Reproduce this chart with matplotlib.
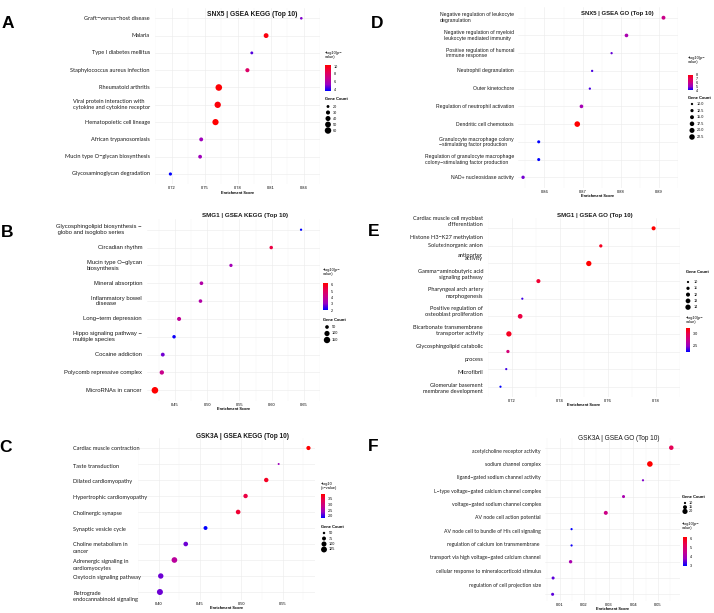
"""Six-panel GSEA dot plot figure (SNX5 / SMG1 / GSK3A, KEGG and GO top 10)."""

import matplotlib

matplotlib.use("Agg")

import matplotlib.pyplot as plt
import numpy as np
from matplotlib.cm import ScalarMappable
from matplotlib.colors import LinearSegmentedColormap, Normalize

W, H, DPI = 714, 613, 100
PX = 72.0 / DPI  # points per pixel

# ggplot-like blue -> red gradient (Lab interpolated stops)
CMAP = LinearSegmentedColormap.from_list(
    "blue_red", ["#0000FF", "#9A00C2", "#CA0089", "#E80050", "#FF0000"]
)
GRID = "#EBEBEB"
SANS = ["Liberation Sans", "DejaVu Sans"]
LATO = ["Lato", "DejaVu Sans"]

# ---------------- data ----------------
A_TERMS = [
    "Graft−versus−host disease",
    "Malaria",
    "Type I diabetes mellitus",
    "Staphylococcus aureus infection",
    "Rheumatoid arthritis",
    "Viral protein interaction with\ncytokine and cytokine receptor",
    "Hematopoietic cell lineage",
    "African trypanosomiasis",
    "Mucin type O−glycan biosynthesis",
    "Glycosaminoglycan degradation",
]
A_SCORE = [0.838, 0.806, 0.793, 0.789, 0.763, 0.762, 0.760, 0.747, 0.746, 0.719]
A_LOGP = [5.0, 10.0, 4.5, 8.0, 10.2, 10.1, 10.3, 5.5, 5.5, 3.6]
A_COUNT = [18, 38, 20, 30, 62, 58, 56, 28, 27, 22]
A_SIZE_BREAKS = [20, 30, 40, 50, 60]
A_COLOR_TICKS = [4, 6, 8, 10]
A_XTICKS = [0.72, 0.75, 0.78, 0.81, 0.84]

B_TERMS = [
    "Glycosphingolipid biosynthesis −\n globo and isoglobo series",
    "Circadian rhythm",
    "Mucin type O−glycan\nbiosynthesis",
    "Mineral absorption",
    "Inflammatory bowel\n   disease",
    "Long−term depression",
    "Hippo signaling pathway −\nmultiple species",
    "Cocaine addiction",
    "Polycomb repressive complex",
    "MicroRNAs in cancer",
]
B_SCORE = [0.6456, 0.5993, 0.5368, 0.491, 0.4895, 0.4563, 0.4485, 0.431, 0.4295, 0.4188]
B_LOGP = [2.0, 5.4, 3.3, 3.6, 3.6, 3.9, 2.1, 2.8, 4.1, 6.3]
B_COUNT = [20, 45, 40, 50, 48, 60, 45, 55, 70, 160]
B_SIZE_BREAKS = [50, 100, 150]
B_COLOR_TICKS = [2, 3, 4, 5, 6]
B_XTICKS = [0.45, 0.50, 0.55, 0.60, 0.65]

C_TERMS = [
    "Cardiac muscle contraction",
    "Taste transduction",
    "Dilated cardiomyopathy",
    "Hypertrophic cardiomyopathy",
    "Cholinergic synapse",
    "Synaptic vesicle cycle",
    "Choline metabolism in\ncancer",
    "Adrenergic signaling in\ncardiomyocytes",
    "Oxytocin signaling pathway",
    "Retrograde\nendocannabinoid signaling",
]
C_SCORE = [0.581, 0.545, 0.530, 0.505, 0.496, 0.4566, 0.4327, 0.419, 0.4025, 0.4015]
C_LOGP = [3.94, 2.4, 3.7, 3.5, 3.6, 1.82, 2.2, 2.7, 2.2, 2.2]
C_COUNT = [80, 45, 85, 85, 90, 75, 90, 118, 110, 128]
C_SIZE_BREAKS = [50, 75, 100, 125]
C_COLOR_TICKS = [2.0, 2.5, 3.0, 3.5]
C_XTICKS = [0.40, 0.45, 0.50, 0.55]

D_TERMS = [
    "Negative regulation of leukocyte\ndegranulation",
    "Negative regulation of myeloid\nleukocyte mediated immunity",
    "Positive regulation of humoral\nimmune response",
    "Neutrophil degranulation",
    "Outer kinetochore",
    "Regulation of neutrophil activation",
    "Dendritic cell chemotaxis",
    "Granulocyte macrophage colony\n−stimulating factor production",
    "Regulation of granulocyte macrophage\ncolony−stimulating factor production",
    "NAD+ nucleosidase activity",
]
D_SCORE = [0.8912, 0.8815, 0.8776, 0.8725, 0.8719, 0.8697, 0.8686, 0.8585, 0.8585, 0.8544]
D_LOGP = [6.0, 5.3, 4.6, 4.4, 4.4, 5.2, 8.1, 3.9, 3.9, 4.7]
D_COUNT = [15, 14, 10, 10, 10, 14, 23, 12, 12, 13]
D_SIZE_BREAKS = [10.0, 12.5, 15.0, 17.5, 20.0, 22.5]
D_COLOR_TICKS = [4, 5, 6, 7, 8]
D_XTICKS = [0.86, 0.87, 0.88, 0.89]

E_TERMS = [
    "Cardiac muscle cell myoblast\ndifferentiation",
    "Histone H3−K27 methylation",
    "Solute:inorganic anion\nantiporter\nactivity",
    "Gamma−aminobutyric acid\nsignaling pathway",
    "Pharyngeal arch artery\nmorphogenesis",
    "Positive regulation of\nosteoblast proliferation",
    "Bicarbonate transmembrane\ntransporter activity",
    "Glycosphingolipid catabolic\nprocess",
    "Microfibril",
    "Glomerular basement\nmembrane development",
]
E_SCORE = [0.779, 0.757, 0.752, 0.731, 0.7243, 0.7234, 0.7187, 0.7183, 0.7176, 0.7152]
E_LOGP = [3.2, 3.1, 3.2, 3.05, 2.35, 3.0, 3.1, 2.8, 2.35, 2.25]
E_COUNT = [12, 11, 14, 12, 10, 13, 14, 11, 10, 10]
E_SIZE_BREAKS = [10, 11, 12, 13, 14]
E_COLOR_TICKS = [2.5, 3.0]
E_XTICKS = [0.72, 0.74, 0.76, 0.78]

F_TERMS = [
    "acetylcholine receptor activity",
    "sodium channel complex",
    "ligand−gated sodium channel activity",
    "L−type voltage−gated calcium channel complex",
    "voltage−gated sodium channel complex",
    "AV node cell action potential",
    "AV node cell to bundle of His cell signaling",
    "regulation of calcium ion transmembrane \ntransport via high voltage−gated calcium channel",
    "cellular response to mineralocorticoid stimulus",
    "regulation of cell projection size",
]
F_SCORE = [0.0554, 0.0467, 0.0439, 0.036, 0.0288, 0.0149, 0.0149, 0.0145, 0.0074, 0.0072]
F_LOGP = [5.3, 6.2, 3.6, 4.0, 4.6, 2.9, 3.0, 4.0, 3.4, 3.4]
F_COUNT = [17, 22, 10, 12, 15, 10, 10, 13, 12, 12]
F_SIZE_BREAKS = [10, 15, 20]
F_COLOR_TICKS = [3, 4, 5, 6]
F_XTICKS = [0.01, 0.02, 0.03, 0.04, 0.05]

# ---------------- layout (pixel coordinates) ----------------
LAYOUT = {
    "A": dict(letter_xy=(7.5, 23), title="SNX5 | GSEA KEGG (Top 10)", title_xy=(252.5, 14),
              title_bold=True, title_size=4.8, box_x=(155, 320), rows=(18.3, 174), expand=0.6,
              xcal=(0.72, 162.3, 0.84, 314.3), font=LATO, label_size=4.1, label_x=150,
              label_ha="right", line_rows=None, dots=(2.6, 6.6),
              cbar_title="−log10(p−\nvalue)", cbar_title_xy=(325, 51), cbar_box=(325, 65, 331, 91),
              size_title_xy=(325, 99.5), size_dot_x=328, size_label_x=333, size_y0=106.5,
              size_step=6.0),
    "B": dict(letter_xy=(7, 232.5), title="SMG1 | GSEA KEGG (Top 10)", title_xy=(245.5, 215.5),
              title_bold=True, title_size=4.5, box_x=(147, 320), rows=(229.7, 390.3), expand=0.6,
              xcal=(0.45, 176.7, 0.65, 313.3), font=SANS, label_size=4.2, label_x=142,
              label_ha="right", line_rows=None, dots=(2.3, 6.6),
              cbar_title="−log10(p−\nvalue)", cbar_title_xy=(323, 268), cbar_box=(323, 283, 328, 310),
              size_title_xy=(323, 320), size_dot_x=327, size_label_x=332, size_y0=327,
              size_step=6.5),
    "C": dict(letter_xy=(6, 448), title="GSK3A | GSEA KEGG (Top 10)", title_xy=(242, 437),
              title_bold=True, title_size=4.7, box_x=(138, 315), rows=(448, 592), expand=0.5,
              xcal=(0.40, 141.7, 0.55, 279.3), font=LATO, label_size=4.1, label_x=73,
              label_ha="left",
              line_rows=[0, 1.125, 2.125, 3.1, 4.125, 5.125, 6.02, 6.44, 7.1, 7.52, 8.125, 9.08, 9.46],
              dots=(2.0, 6.0),
              cbar_title="−log10\n(p−value)", cbar_title_xy=(321, 482), cbar_box=(321, 494, 325, 518),
              size_title_xy=(321, 527), size_dot_x=324, size_label_x=329, size_y0=533,
              size_step=5.5),
    "D": dict(letter_xy=(377.5, 23), title="SNX5 | GSEA GO (Top 10)", title_xy=(617, 14),
              title_bold=True, title_size=4.3, box_x=(518, 678), rows=(17.7, 177.3), expand=0.6,
              xcal=(0.86, 546.7, 0.89, 671), font=SANS, label_size=3.7, label_x=514,
              label_ha="right", line_rows=None, dots=(2.3, 5.6),
              cbar_title="−log10(p−\nvalue)", cbar_title_xy=(688, 56), cbar_box=(688, 74.5, 693, 90.5),
              size_title_xy=(688, 98), size_dot_x=692, size_label_x=697, size_y0=104,
              size_step=6.6),
    "E": dict(letter_xy=(374, 232), title="SMG1 | GSEA GO (Top 10)", title_xy=(595, 215),
              title_bold=True, title_size=4.4, box_x=(488, 680), rows=(228.3, 386.7), expand=0.6,
              xcal=(0.72, 499, 0.78, 674.3), font=LATO, label_size=4.1, label_x=483,
              label_ha="right",
              line_rows=[-0.57, -0.23, 0.51, 1.0, 1.53, 1.74, 2.46, 2.8, 3.5, 3.86, 4.58, 4.92,
                         5.64, 6.0, 6.72, 7.46, 8.18, 8.94, 9.28],
              dots=(2.2, 5.3),
              cbar_title="−log10(p−\nvalue)", cbar_title_xy=(686, 316), cbar_box=(686, 328, 690, 352),
              size_title_xy=(686, 272), size_dot_x=688, size_label_x=694, size_y0=282,
              size_step=6.3),
    "F": dict(letter_xy=(373, 446.5), title="GSK3A | GSEA GO (Top 10)", title_xy=(618.5, 438),
              title_bold=False, title_size=4.7, box_x=(545, 680), rows=(447.7, 594.3), expand=0.4,
              xcal=(0.01, 559.5, 0.05, 658), font=LATO, label_size=3.7, label_x=541,
              label_ha="right",
              line_rows=[0.245, 1.06, 1.86, 2.68, 3.5, 4.31, 5.13, 5.95, 6.77, 7.59, 8.43],
              dots=(2.2, 5.6),
              cbar_title="−log10(p−\nvalue)", cbar_title_xy=(682, 522), cbar_box=(683, 537, 687, 566),
              size_title_xy=(682, 497), size_dot_x=685, size_label_x=689, size_y0=503,
              size_step=4.2),
}


def dot_area(count, cmin, cmax, dmin, dmax):
    t = (np.asarray(count, dtype=float) - cmin) / (cmax - cmin)
    d = np.sqrt(dmin ** 2 + t * (dmax ** 2 - dmin ** 2))
    return (d * PX) ** 2


def px_axes(fig, left, top, right, bottom):
    return fig.add_axes([left / W, 1 - bottom / H, (right - left) / W, (bottom - top) / H])


def draw_panel(fig, ov, key, terms, score, logp, count, size_breaks, color_ticks, xticks):
    lay = LAYOUT[key]
    py0, py9 = lay["rows"]
    step = (py9 - py0) / 9
    ex = lay["expand"]
    left, right = lay["box_x"]
    ax = px_axes(fig, left, py0 - 0.6 * step, right, py9 + ex * step)

    v1, p1, v2, p2 = lay["xcal"]
    k = (p2 - p1) / (v2 - v1)
    ax.set_xlim(v1 - (p1 - left) / k, v1 + (right - p1) / k)
    ax.set_ylim(9 + ex, -0.6)

    ax.set_xticks(xticks)
    ax.set_xticklabels([f"{t:.2f}" for t in xticks], fontsize=2.9, family=SANS)
    dx = xticks[1] - xticks[0]
    ax.set_xticks([t + dx / 2 for t in [xticks[0] - dx] + list(xticks)], minor=True)
    ax.set_yticks(range(len(terms)))
    ax.set_yticklabels([])
    ax.tick_params(which="both", length=0, pad=1.3)
    ax.grid(which="major", color=GRID, lw=0.4)
    ax.grid(which="minor", axis="x", color="#F3F3F3", lw=0.3)
    ax.set_axisbelow(True)
    for sp in ax.spines.values():
        sp.set_visible(False)
    ax.set_xlabel("Enrichment Score", fontsize=2.8, fontweight="bold", labelpad=0.3, family=SANS)

    norm = Normalize(min(logp), max(logp))
    cmin, cmax = min(count), max(count)
    dmin, dmax = lay["dots"]
    rows = np.arange(len(terms))
    ax.scatter(score, rows, s=dot_area(count, cmin, cmax, dmin, dmax), c=logp, cmap=CMAP,
               norm=norm, linewidths=0, zorder=3, clip_on=False)

    # category labels
    font = lay["font"]
    if lay["line_rows"] is None:
        for i, term in enumerate(terms):
            ov.text(lay["label_x"], py0 + i * step, term, ha=lay["label_ha"], va="center",
                    multialignment="left", fontsize=lay["label_size"], family=font,
                    linespacing=1.15, color="#1a1a1a")
    else:
        lines = [ln for term in terms for ln in term.split("\n")]
        for ln, r in zip(lines, lay["line_rows"]):
            ov.text(lay["label_x"], py0 + r * step, ln, ha=lay["label_ha"], va="center",
                    fontsize=lay["label_size"], family=font, color="#1a1a1a")

    # letter and title
    lx, ly = lay["letter_xy"]
    ov.text(lx, ly, key, ha="center", va="center", fontsize=12.5, fontweight="bold", family=SANS)
    tx, ty = lay["title_xy"]
    ov.text(tx, ty, lay["title"], ha="center", va="center", fontsize=lay["title_size"],
            fontweight="bold" if lay["title_bold"] else "normal", family=SANS, color="#1a1a1a")

    # colour legend
    cx, cy = lay["cbar_title_xy"]
    ov.text(cx, cy, lay["cbar_title"], ha="left", va="top", fontsize=2.8, family=SANS,
            linespacing=1.1)
    bl, bt, br, bb = lay["cbar_box"]
    cax = px_axes(fig, bl, bt, br, bb)
    cb = fig.colorbar(ScalarMappable(norm=norm, cmap=CMAP), cax=cax)
    cb.outline.set_visible(False)
    cb.set_ticks(color_ticks)
    cb.set_ticklabels([f"{t:.1f}" if isinstance(t, float) else f"{t}" for t in color_ticks])
    cax.tick_params(labelsize=2.7, length=1.0, width=0.3, color="white", pad=1.2)
    for lab in cax.get_yticklabels():
        lab.set_family(SANS)

    # size legend
    sx, sy = lay["size_title_xy"]
    ov.text(sx, sy, "Gene Count", ha="left", va="center", fontsize=2.9, fontweight="bold",
            family=SANS)
    ys = [lay["size_y0"] + i * lay["size_step"] for i in range(len(size_breaks))]
    ov.scatter([lay["size_dot_x"]] * len(size_breaks), ys,
               s=dot_area(np.clip(size_breaks, cmin, cmax), cmin, cmax, dmin, dmax),
               color="black", linewidths=0, clip_on=False)
    for b, y in zip(size_breaks, ys):
        lab = f"{b:.1f}" if isinstance(b, float) else f"{b}"
        ov.text(lay["size_label_x"], y, lab, ha="left", va="center", fontsize=2.7, family=SANS)


def main() -> None:
    plt.rcParams["font.family"] = SANS
    plt.rcParams["axes.unicode_minus"] = True
    fig = plt.figure(figsize=(W / DPI, H / DPI), dpi=DPI, facecolor="white")
    ov = fig.add_axes([0, 0, 1, 1], zorder=10)
    ov.set_xlim(0, W)
    ov.set_ylim(H, 0)
    ov.axis("off")

    draw_panel(fig, ov, "A", A_TERMS, A_SCORE, A_LOGP, A_COUNT, A_SIZE_BREAKS, A_COLOR_TICKS, A_XTICKS)
    draw_panel(fig, ov, "B", B_TERMS, B_SCORE, B_LOGP, B_COUNT, B_SIZE_BREAKS, B_COLOR_TICKS, B_XTICKS)
    draw_panel(fig, ov, "C", C_TERMS, C_SCORE, C_LOGP, C_COUNT, C_SIZE_BREAKS, C_COLOR_TICKS, C_XTICKS)
    draw_panel(fig, ov, "D", D_TERMS, D_SCORE, D_LOGP, D_COUNT, D_SIZE_BREAKS, D_COLOR_TICKS, D_XTICKS)
    draw_panel(fig, ov, "E", E_TERMS, E_SCORE, E_LOGP, E_COUNT, E_SIZE_BREAKS, E_COLOR_TICKS, E_XTICKS)
    draw_panel(fig, ov, "F", F_TERMS, F_SCORE, F_LOGP, F_COUNT, F_SIZE_BREAKS, F_COLOR_TICKS, F_XTICKS)

    fig.savefig("out.png", dpi=DPI, facecolor="white")
    plt.close(fig)


if __name__ == "__main__":
    main()
